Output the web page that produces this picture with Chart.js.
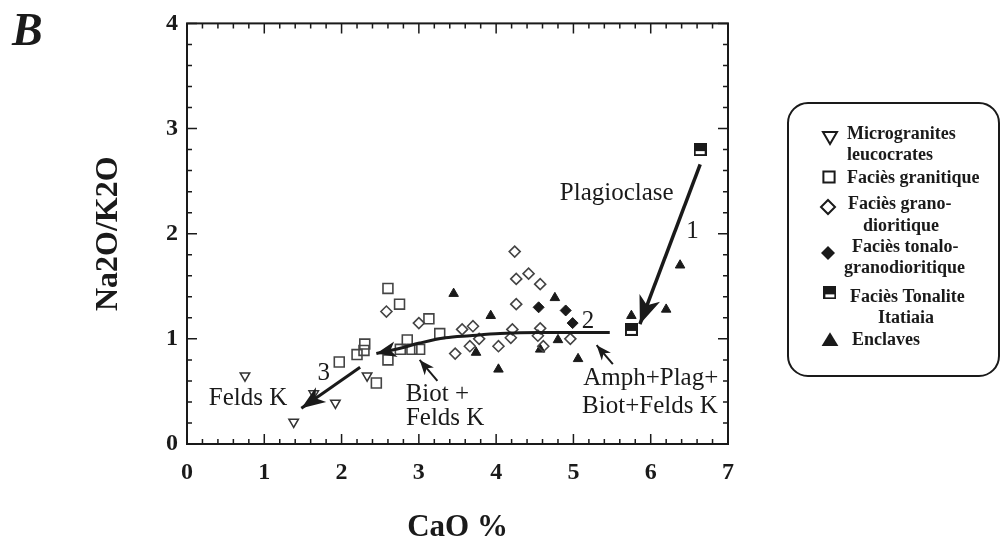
<!DOCTYPE html>
<html>
<head>
<meta charset="utf-8">
<script src="https://cdn.jsdelivr.net/npm/chart.js@4/dist/chart.umd.min.js"></script>
<style>
    html, body { margin: 0; padding: 0; background: #fff; }
    canvas { display: block; }
</style>
</head>
<body>
<canvas id="chart" width="1003" height="547"></canvas>
<script>
// values: CaO % (x) vs Na2O/K2O (y)
const microX = [0.75, 1.38, 1.64, 1.92, 2.33];
const microY = [0.65, 0.21, 0.48, 0.39, 0.65];

const graniteX = [1.97, 2.20, 2.29, 2.30, 2.45, 2.60, 2.75, 3.13, 3.27, 2.85, 2.76, 2.91, 3.01, 2.60];
const graniteY = [0.78, 0.85, 0.89, 0.95, 0.58, 1.48, 1.33, 1.19, 1.05, 0.99, 0.90, 0.90, 0.90, 0.80];

const granodioX = [2.58, 3.00, 3.56, 3.70, 3.47, 3.66, 3.78, 4.03, 4.24, 4.26, 4.42, 4.57, 4.26, 4.21, 4.19, 4.57, 4.54, 4.96, 4.61];
const granodioY = [1.26, 1.15, 1.09, 1.12, 0.86, 0.93, 1.00, 0.93, 1.83, 1.57, 1.62, 1.52, 1.33, 1.09, 1.01, 1.10, 1.03, 1.00, 0.93];

const tonaloX = [4.55, 4.90, 4.99];
const tonaloY = [1.30, 1.27, 1.15];

const itatiaiaX = [6.64, 5.75];
const itatiaiaY = [2.80, 1.09];

const enclaveX = [3.45, 3.93, 3.74, 4.03, 4.76, 4.57, 4.80, 5.06, 6.38, 6.20, 5.75];
const enclaveY = [1.43, 1.22, 0.87, 0.71, 1.39, 0.90, 0.99, 0.81, 1.70, 1.28, 1.22];

// trend lines, tail -> tip
const trend2X = [5.47, 4.57, 4.05, 3.66, 3.34, 3.01, 2.76, 2.45];
const trend2Y = [1.06, 1.06, 1.05, 1.03, 1.01, 0.96, 0.91, 0.86];
const trend1X = [6.64, 5.86];
const trend1Y = [2.66, 1.14];
const trend3X = [2.24, 1.48];
const trend3Y = [0.73, 0.34];
const biotArrowX = [3.24, 3.01];
const biotArrowY = [0.60, 0.80];
const amphArrowX = [5.51, 5.30];
const amphArrowY = [0.76, 0.94];

const xTicks = [0, 1, 2, 3, 4, 5, 6, 7];
const yTicks = [0, 1, 2, 3, 4];

const notes = [
    { text: 'Plagioclase', x: 5.56, y: 2.38 },
    { text: '1', x: 6.54, y: 2.02 },
    { text: '2', x: 5.19, y: 1.17 },
    { text: '3', x: 1.77, y: 0.67 },
    { text: 'Felds K', x: 0.79, y: 0.43 },
    { text: 'Biot +', x: 3.24, y: 0.475 },
    { text: 'Felds K', x: 3.34, y: 0.24 },
    { text: 'Amph+Plag+', x: 6.00, y: 0.62 },
    { text: 'Biot+Felds K', x: 5.99, y: 0.36 }
];

const ink = '#1a1a1a';
const serif = '"Liberation Serif", "Times New Roman", serif';

function pts(xs, ys) {
    return xs.map((x, i) => ({ x: x, y: ys[i] }));
}

// half filled square for the Itatiaia tonalite
function halfSquare(size) {
    const c = document.createElement('canvas');
    c.width = size; c.height = size;
    const g = c.getContext('2d');
    g.fillStyle = ink;
    g.fillRect(0, 0, size, size);
    g.fillStyle = '#fff';
    g.fillRect(2, Math.round(size * 0.6), size - 4, Math.round(size * 0.22));
    return c;
}
const itatiaiaMark = halfSquare(13);

function arrowHead(ctx, x0, y0, x1, y1, len, wid) {
    const a = Math.atan2(y1 - y0, x1 - x0);
    ctx.save();
    ctx.translate(x1, y1);
    ctx.rotate(a);
    ctx.beginPath();
    ctx.moveTo(0, 0);
    ctx.lineTo(-len, wid / 2);
    ctx.lineTo(-len * 0.72, 0);
    ctx.lineTo(-len, -wid / 2);
    ctx.closePath();
    ctx.fill();
    ctx.restore();
}

function drawMark(ctx, type, x, y, s) {
    ctx.save();
    ctx.strokeStyle = ink;
    ctx.fillStyle = ink;
    ctx.lineWidth = 2;
    ctx.beginPath();
    if (type === 'down') {
        ctx.moveTo(x - s, y - s * 0.7);
        ctx.lineTo(x + s, y - s * 0.7);
        ctx.lineTo(x, y + s);
        ctx.closePath();
        ctx.stroke();
    } else if (type === 'square') {
        ctx.rect(x - s * 0.8, y - s * 0.8, s * 1.6, s * 1.6);
        ctx.stroke();
    } else if (type === 'diamond' || type === 'fdiamond') {
        ctx.moveTo(x, y - s);
        ctx.lineTo(x + s, y);
        ctx.lineTo(x, y + s);
        ctx.lineTo(x - s, y);
        ctx.closePath();
        if (type === 'fdiamond') ctx.fill(); else ctx.stroke();
    } else if (type === 'half') {
        ctx.drawImage(halfSquare(Math.round(s * 1.9)), x - s * 0.95, y - s * 0.95);
    } else if (type === 'up') {
        ctx.moveTo(x, y - s * 1.1);
        ctx.lineTo(x + s * 1.2, y + s * 0.85);
        ctx.lineTo(x - s * 1.2, y + s * 0.85);
        ctx.closePath();
        ctx.fill();
    }
    ctx.restore();
}

const legendRows = [
    { mark: 'down', mx: 830, my: 137, lines: [['Microgranites', 847, 134], ['leucocrates', 847, 155]] },
    { mark: 'square', mx: 829, my: 177, lines: [['Faciès granitique', 847, 178]] },
    { mark: 'diamond', mx: 828, my: 207, lines: [['Faciès grano-', 848, 204], ['dioritique', 863, 226]] },
    { mark: 'fdiamond', mx: 828, my: 253, lines: [['Faciès tonalo-', 852, 247], ['granodioritique', 844, 268]] },
    { mark: 'half', mx: 830, my: 293, lines: [['Faciès Tonalite', 850, 297], ['Itatiaia', 878, 318]] },
    { mark: 'up', mx: 830, my: 340, lines: [['Enclaves', 852, 340]] }
];

const decor = {
    id: 'decor',
    afterDatasetsDraw(chart) {
        const ctx = chart.ctx;
        const xs = chart.scales.x, ys = chart.scales.y;
        ctx.save();
        ctx.fillStyle = ink;
        chart.data.datasets.forEach(ds => {
            if (!ds.arrow) return;
            const n = ds.data.length;
            const a = ds.data[n - 2], b = ds.data[n - 1];
            arrowHead(ctx,
                xs.getPixelForValue(a.x), ys.getPixelForValue(a.y),
                xs.getPixelForValue(b.x), ys.getPixelForValue(b.y),
                ds.arrow[0], ds.arrow[1]);
        });
        ctx.font = '25px ' + serif;
        ctx.textAlign = 'center';
        ctx.textBaseline = 'middle';
        notes.forEach(n => {
            ctx.fillText(n.text, xs.getPixelForValue(n.x), ys.getPixelForValue(n.y));
        });
        ctx.restore();
    },
    afterDraw(chart) {
        const ctx = chart.ctx;
        const xs = chart.scales.x, ys = chart.scales.y;
        const { left, right, top, bottom } = chart.chartArea;
        ctx.save();
        ctx.strokeStyle = ink;
        ctx.lineWidth = 2;
        ctx.strokeRect(left, top, right - left, bottom - top);
        ctx.lineWidth = 1.5;
        ctx.beginPath();
        for (let i = 0; i <= 35; i++) {
            const p = xs.getPixelForValue(i / 5);
            const L = i % 5 === 0 ? 10 : 5;
            ctx.moveTo(p, bottom); ctx.lineTo(p, bottom - L);
            ctx.moveTo(p, top); ctx.lineTo(p, top + L);
        }
        for (let i = 0; i <= 20; i++) {
            const p = ys.getPixelForValue(i / 5);
            const L = i % 5 === 0 ? 10 : 5;
            ctx.moveTo(left, p); ctx.lineTo(left + L, p);
            ctx.moveTo(right, p); ctx.lineTo(right - L, p);
        }
        ctx.stroke();

        // panel letter
        ctx.fillStyle = ink;
        ctx.font = 'italic bold 46px ' + serif;
        ctx.textAlign = 'left';
        ctx.textBaseline = 'alphabetic';
        ctx.fillText('B', 12, 45);

        // legend box
        ctx.lineWidth = 2;
        ctx.beginPath();
        ctx.roundRect(788, 103, 211, 273, 20);
        ctx.stroke();
        ctx.font = 'bold 18px ' + serif;
        ctx.textBaseline = 'middle';
        legendRows.forEach(r => {
            drawMark(ctx, r.mark, r.mx, r.my, 7);
            r.lines.forEach(l => ctx.fillText(l[0], l[1], l[2]));
        });
        ctx.restore();
    }
};

const ctx = document.getElementById('chart').getContext('2d');
new Chart(ctx, {
    type: 'scatter',
    data: {
        datasets: [
            { label: 'Trend 2', type: 'line', data: pts(trend2X, trend2Y), showLine: true, borderColor: ink, borderWidth: 3, pointRadius: 0, tension: 0.35, fill: false, arrow: [20, 16] },
            { label: 'Trend 1', type: 'line', data: pts(trend1X, trend1Y), showLine: true, borderColor: ink, borderWidth: 3.5, pointRadius: 0, fill: false, arrow: [28, 22] },
            { label: 'Trend 3', type: 'line', data: pts(trend3X, trend3Y), showLine: true, borderColor: ink, borderWidth: 3, pointRadius: 0, fill: false, arrow: [24, 18] },
            { label: 'Biot', type: 'line', data: pts(biotArrowX, biotArrowY), showLine: true, borderColor: ink, borderWidth: 2, pointRadius: 0, fill: false, arrow: [15, 12] },
            { label: 'Amph', type: 'line', data: pts(amphArrowX, amphArrowY), showLine: true, borderColor: ink, borderWidth: 2, pointRadius: 0, fill: false, arrow: [15, 12] },
            { label: 'Microgranites leucocrates', data: pts(microX, microY), pointStyle: 'triangle', rotation: 180, pointRadius: 5.5, borderColor: '#333', borderWidth: 1.5, backgroundColor: '#fff' },
            { label: 'Faciès granitique', data: pts(graniteX, graniteY), pointStyle: 'rect', pointRadius: 7, borderColor: '#444', borderWidth: 1.6, backgroundColor: 'rgba(255,255,255,0)' },
            { label: 'Faciès grano-dioritique', data: pts(granodioX, granodioY), pointStyle: 'rectRot', pointRadius: 5.5, borderColor: '#444', borderWidth: 1.6, backgroundColor: 'rgba(255,255,255,0)' },
            { label: 'Faciès tonalo-granodioritique', data: pts(tonaloX, tonaloY), pointStyle: 'rectRot', pointRadius: 5.5, borderColor: ink, borderWidth: 1, backgroundColor: ink },
            { label: 'Faciès Tonalite Itatiaia', data: pts(itatiaiaX, itatiaiaY), pointStyle: itatiaiaMark },
            { label: 'Enclaves', data: pts(enclaveX, enclaveY), pointStyle: 'triangle', pointRadius: 5.5, borderColor: ink, borderWidth: 1, backgroundColor: ink }
        ]
    },
    options: {
        responsive: false,
        animation: false,
        events: [],
        layout: { padding: { left: 90, right: 275, top: 22, bottom: 0 } },
        plugins: {
            legend: { display: false },
            tooltip: { enabled: false }
        },
        scales: {
            x: {
                type: 'linear',
                min: 0,
                max: 7,
                afterBuildTicks: s => { s.ticks = xTicks.map(v => ({ value: v })); },
                afterFit: s => { s.height = 103; },
                grid: { drawOnChartArea: false, drawTicks: false, color: 'rgba(0,0,0,0)' },
                border: { display: false },
                ticks: { color: ink, padding: 14, font: { family: serif, size: 24, weight: 'bold' } },
                title: { display: true, text: 'CaO %', color: ink, padding: { top: 0, bottom: 0 }, font: { family: serif, size: 31, weight: 'bold' } }
            },
            y: {
                type: 'linear',
                min: 0,
                max: 4,
                afterBuildTicks: s => { s.ticks = yTicks.map(v => ({ value: v })); },
                afterFit: s => { s.width = 97; },
                grid: { drawOnChartArea: false, drawTicks: false, color: 'rgba(0,0,0,0)' },
                border: { display: false },
                ticks: { color: ink, padding: 9, font: { family: serif, size: 24, weight: 'bold' } },
                title: { display: true, text: 'Na2O/K2O', color: ink, padding: { top: 0, bottom: 0 }, font: { family: serif, size: 32, weight: 'bold' } }
            }
        }
    },
    plugins: [decor]
});
</script>
</body>
</html>
